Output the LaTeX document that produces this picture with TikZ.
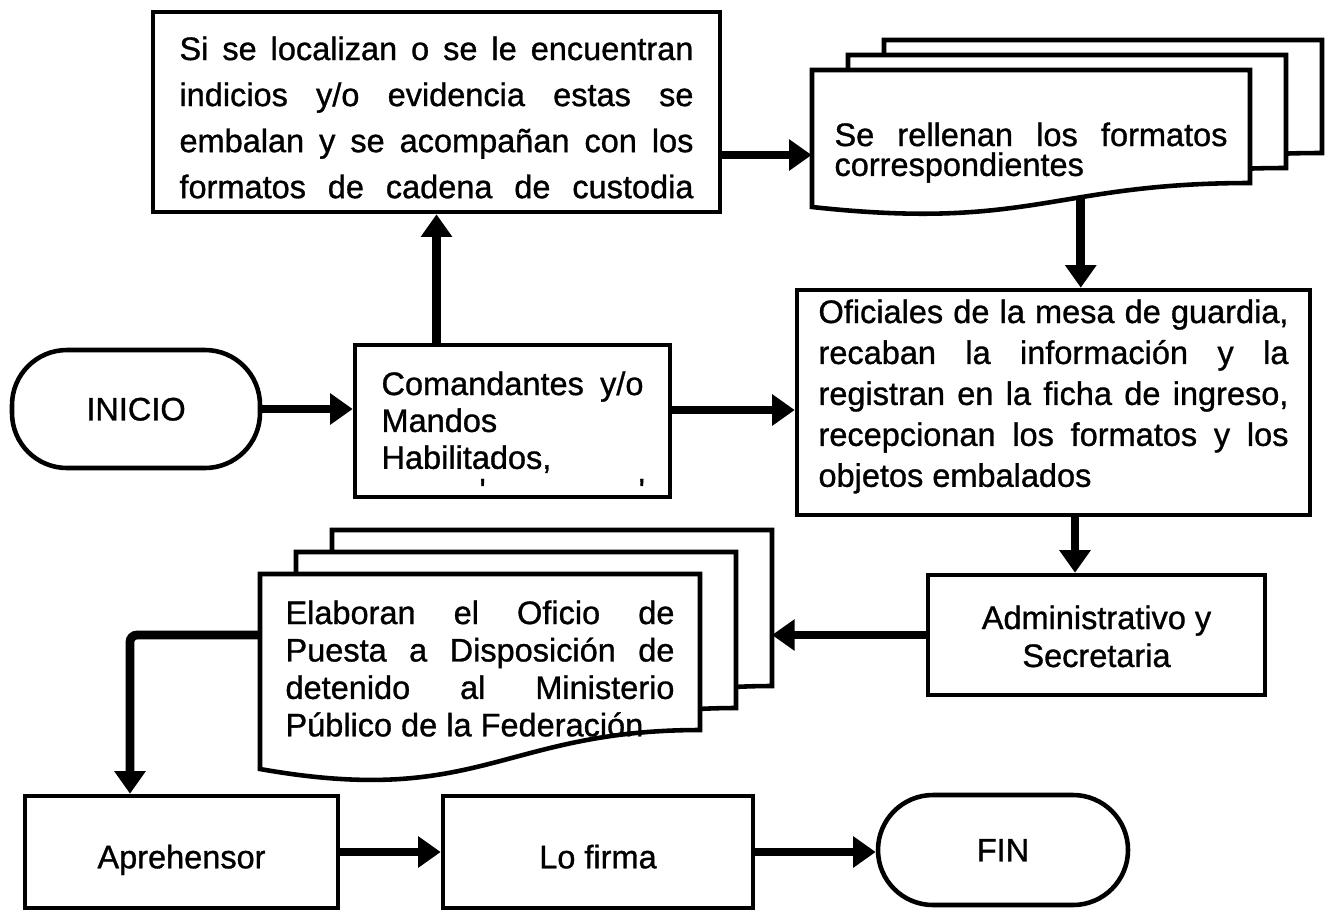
\documentclass[tikz,border=0pt]{standalone}
\usepackage{fontspec}
\setmainfont{Liberation Sans}[UprightFeatures={FakeBold=1}]
\usetikzlibrary{arrows.meta}

% renglon justificado a todo el ancho
\newcommand{\jl}[1]{\makebox[\hsize][s]{#1}}
% bloque de texto: subida, ancho, contenido
\newcommand{\bloque}[3]{\raisebox{#1}[0pt][0pt]{\parbox[t]{#2}{#3}}}
% hoja con borde inferior ondulado: x, y, ancho, alto, onda, extra
\newcommand{\hoja}[6]{%
  \draw[line width=2.6pt, fill=white] (#1,#2) -- (#1+#3,#2) -- (#1+#3,#2-#4+#5)
    .. controls (#1+0.55*#3,#2-#4+#5) and (#1+0.5*#3,#2-#4-#5) .. (#1,#2-#4) #6 -- cycle;}
% pila de tres hojas: nombre, x, y, ancho, alto, onda, dx, dy
\newcommand{\pila}[8]{%
  \hoja{#2+2*#7}{#3+2*#8}{#4}{#5}{#6}{}
  \hoja{#2+#7}{#3+#8}{#4}{#5}{#6}{}
  \hoja{#2}{#3}{#4}{#5}{#6}{coordinate[pos=0.38] (#1-ola)}
  \coordinate (#1-fondo) at (#2+2*#7+#4,#3+2*#8-0.5*#5);}

\begin{document}
\begin{tikzpicture}[
    renglon/.style={font=\fontsize{18.5}{#1}\selectfont},
    caja/.style={draw, line width=2.6pt, fill=white, inner sep=0pt, renglon=22},
    extremo/.style={caja, rounded corners=1.1cm, text height=13pt, text depth=0pt},
    linea/.style={text height=18.5pt, text depth=0pt},
    flecha/.style={-{Triangle[length=0.45cm,width=0.6cm]}, line width=5pt}
]
    \useasboundingbox (0,0) rectangle (26.54,-18.32);

    % Inicio y fin
    \node[extremo, minimum width=4.96cm, minimum height=2.36cm] (inicio) at (2.72,-8.18) {INICIO};
    \node[extremo, minimum width=5cm, minimum height=2.2cm] (fin) at (20.06,-17.00) {FIN};

    % Cajas de proceso
    \node[caja, renglon=26.2, minimum width=11.34cm, minimum height=4cm] (sireg) at (8.73,-2.24)
        {\bloque{1.04cm}{10.28cm}{\jl{Si se localizan o se le encuentran}\\
         \jl{indicios y/o evidencia estas se}\\
         \jl{embalan y se acompañan con los}\\
         \jl{formatos de cadena de custodia}}};
    \node[caja, renglon=21, minimum width=6.3cm, minimum height=3.04cm] (coman) at (10.25,-8.42)
        {\bloque{0.52cm}{5.24cm}{\jl{Comandantes y/o}\\ Mandos\\ Habilitados,\\[-2.5pt]
         \makebox[\hsize][l]{\hspace{1.96cm}\textquotesingle\hspace{3.06cm}\textquotesingle}}};
    \node[caja, renglon=23.3, minimum width=10.26cm, minimum height=4.5cm] (ofic) at (21.07,-8.05)
        {\bloque{1.59cm}{9.4cm}{\jl{Oficiales de la mesa de guardia,}\\
         \jl{recaban la información y la}\\
         \jl{registran en la ficha de ingreso,}\\
         \jl{recepcionan los formatos y los}\\
         objetos embalados}};
    \node[caja, renglon=21.6, minimum width=6.74cm, minimum height=2.4cm] (admin) at (21.93,-12.70)
        {\bloque{0.12cm}{6cm}{\centering Administrativo y\\ Secretaria}};
    \node[caja, linea, minimum width=6.26cm, minimum height=2.24cm] (aprehen) at (3.63,-17.04) {Aprehensor};
    \node[caja, linea, minimum width=6.2cm, minimum height=2.24cm] (firma) at (11.96,-17.04) {Lo firma};

    % Documentos
    \pila{form}{16.24}{-1.40}{8.76}{2.74}{0.48}{0.72}{0.30}
    \node[inner sep=0pt, renglon=17, minimum width=8.76cm, minimum height=2.74cm] (form) at (20.62,-2.77)
        {\bloque{-0.15cm}{7.86cm}{\jl{Se rellenan los formatos}\\ correspondientes}};
    \pila{elab}{5.20}{-11.48}{8.80}{3.90}{0.78}{0.72}{0.44}
    \node[inner sep=0pt, renglon=21.3, minimum width=8.8cm, minimum height=3.9cm] (elab) at (9.60,-13.43)
        {\bloque{0.95cm}{7.78cm}{\jl{Elaboran el Oficio de}\\
         \jl{Puesta a Disposición de}\\
         \jl{detenido al Ministerio}\\
         Público de la Federación}};

    % Conectores
    \draw[flecha] (inicio) -- (inicio -| coman.west);
    \draw[flecha] ([yshift=0.22cm]coman.east) -- ([yshift=0.22cm]coman.east -| ofic.west);
    \draw[flecha] (coman.north -| sireg.south) -- (sireg.south);
    \draw[flecha] ([yshift=-0.86cm]sireg.east) -- ([yshift=-0.86cm]sireg.east -| form.west);
    \draw[flecha] (form-ola) -- (form-ola |- ofic.north);
    \draw[flecha] ([xshift=0.43cm]ofic.south) -- ([xshift=0.43cm]ofic.south |- admin.north);
    \draw[flecha] (admin.west) -- (admin.west -| elab-fondo);
    \draw[flecha, rounded corners=4pt] (elab.west |- admin.west) -| ([xshift=-1.03cm]aprehen.north);
    \draw[flecha] (aprehen) -- (firma);
    \draw[flecha] (firma.east) -- (firma.east -| fin.west);
\end{tikzpicture}
\end{document}
